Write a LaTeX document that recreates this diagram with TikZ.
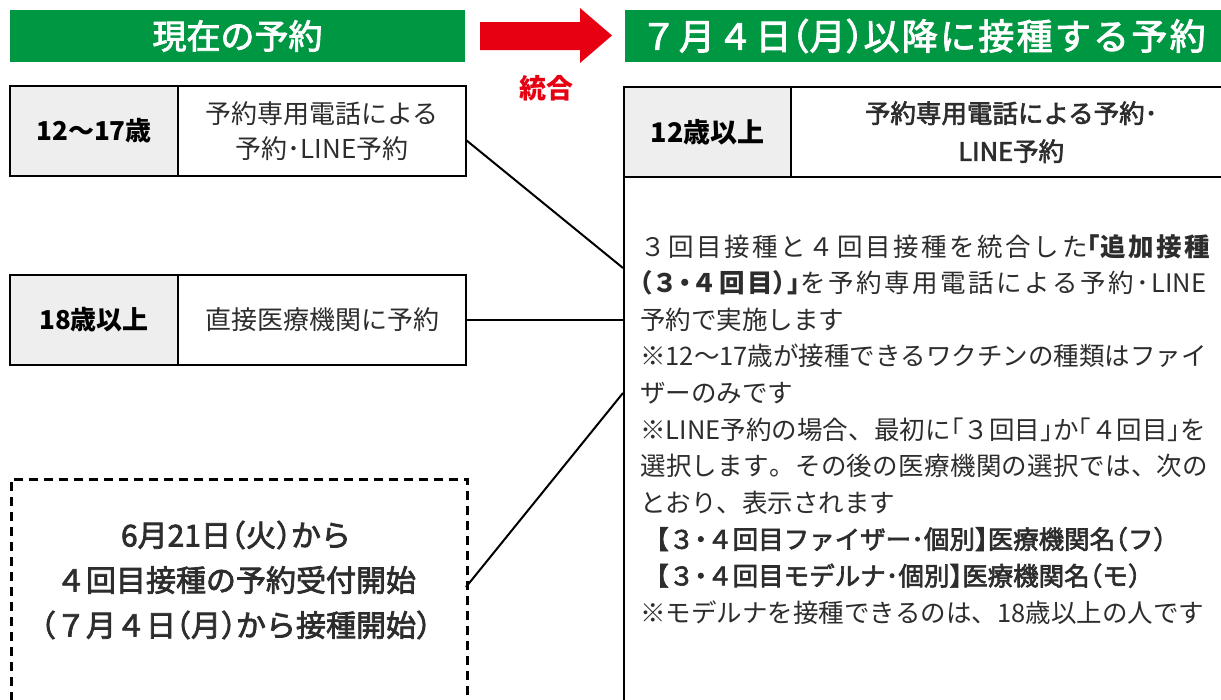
\documentclass[tikz,border=0pt]{standalone}
\usepackage{fontspec}
\setmainfont{Noto Sans CJK JP}
\newfontfamily\md{Noto Sans CJK JP}[FakeBold=2.5]
\newcommand{\hp}[1]{{\addfontfeatures{RawFeature=+halt}#1}}
\newXeTeXintercharclass\jcls
\newcount\jcnt
\newcommand{\setjrange}[2]{\jcnt=#1\relax
  \loop\XeTeXcharclass\jcnt=\jcls\relax\ifnum\jcnt<#2\relax\advance\jcnt by 1\repeat}
\setjrange{"3000}{"30FF}
\setjrange{"4E00}{"9FFF}
\setjrange{"FF00}{"FFEF}
\XeTeXcharclass`※=\jcls
\XeTeXinterchartoks\jcls\jcls={\hskip0pt plus 1fil\relax}
\XeTeXinterchartoks\jcls 0={\hskip0pt plus 1fil\relax}
\XeTeXinterchartoks 0\jcls={\hskip0pt plus 1fil\relax}
\newcommand{\jglue}{\XeTeXinterchartokenstate=1\relax}
\newcommand{\jline}[2]{\hbox to #1{#2}}
\definecolor{hgreen}{RGB}{0,151,66}
\definecolor{ared}{RGB}{230,0,18}
\definecolor{cellgray}{RGB}{238,238,238}
\definecolor{txt}{RGB}{45,45,45}
\newcommand{\fsz}[2]{\fontsize{#1}{#2}\selectfont}
\begin{document}
\begin{tikzpicture}[x=1pt,y=-1pt,
  greenbar/.style={fill=hgreen, text=white, inner sep=0pt, minimum height=52pt, font=\md\fsz{34}{40}},
  cell/.style={draw=black, line width=2.4pt, inner sep=0pt, minimum height=90pt},
  agecell/.style={cell, fill=cellgray, font=\bfseries\fsz{26}{30}},
  plaincell/.style={cell, fill=white, text=txt, font=\fsz{26}{35}, align=center},
  bodyln/.style={anchor=base west, inner sep=0pt, text=txt, font=\jglue\fsz{25.5}{30}},
  conn/.style={line width=2pt}]
\useasboundingbox (0,0) rectangle (1221,699);
\fill[white] (0,0) rectangle (1221,699);

% headers
\node[greenbar, minimum width=455pt] (h1) at (237.5,36) {現在の予約};
\node[greenbar, minimum width=596pt, anchor=west, font=\jglue\md\fsz{36}{40}] (h2) at (625,36) {\jline{565pt}{７月４日\hp{（}月\hp{）}以降に接種する予約}};
\fill[ared] (480,22) -- (580,22) -- (580,8) -- (612,35.5) -- (580,63) -- (580,50) -- (480,50) -- cycle;
\node[text=ared, font=\bfseries\fsz{27}{30}] (tg) at (546,88) {統合};

% left boxes
\node[agecell, minimum width=168pt] (a1) at (94,131) {12〜17歳};
\node[plaincell, minimum width=288pt] (c1) at (322,131) {予約専用電話による\\予約･LINE予約};
\node[agecell, minimum width=168pt] (a2) at (94,320) {18歳以上};
\node[plaincell, minimum width=288pt] (c2) at (322,320) {直接医療機関に予約};
\node[draw=black, line width=2.6pt, dash pattern=on 9pt off 6pt, minimum width=456pt, minimum height=300pt, anchor=north west, inner sep=0pt] (dbox) at (10,478) {};
\node[align=center, text=txt, font=\md\fsz{30}{45}] (dtx) at (236,580) {6月21日\hp{（}火\hp{）}から\\４回目接種の予約受付開始\\\hp{（}７月４日\hp{（}月\hp{）}から接種開始\hp{）}};

% right box
\node[agecell, minimum width=167pt, anchor=north west, font=\bfseries\fsz{27}{30}] (ra) at (623,86) {12歳以上};
\node[plaincell, minimum width=440pt, anchor=north west, font=\md\fsz{25.5}{38}] (rc) at (790,86) {予約専用電話による予約･\\LINE予約};
\node[cell, fill=white, minimum width=620pt, minimum height=600pt, anchor=north west] (rb) at (623,176) {};

\node[bodyln] (b1) at (640,256) {\jline{570pt}{３回目接種と４回目接種を統合した{\bfseries\hp{「}追加接種}}};
\node[bodyln] (b2) at (640,292.6) {\jline{566pt}{{\bfseries\hp{（}３\hp{・}４回目\hp{）」}}を予約専用電話による予約･LINE}};
\node[bodyln] (b3) at (640,329.2) {予約で実施します};
\node[bodyln] (b4) at (640,365.8) {\jline{566pt}{※12〜17歳が接種できるワクチンの種類はファイ}};
\node[bodyln] (b5) at (640,402.4) {ザーのみです};
\node[bodyln] (b6) at (640,439) {\jline{566pt}{※LINE予約の場合、最初に\hp{「}３回目\hp{」}か\hp{「}４回目\hp{」}を}};
\node[bodyln] (b7) at (640,475.6) {\jline{568pt}{選択します。その後の医療機関の選択では、次の}};
\node[bodyln] (b8) at (640,512.2) {とおり、表示されます};
\node[bodyln, font=\md\fsz{25.5}{30}] (b9) at (656,548.8) {\hp{【}３\hp{・}４回目ファイザー･個別\hp{】}医療機関名\hp{（}フ\hp{）}};
\node[bodyln, font=\md\fsz{25.5}{30}] (b10) at (656,585.4) {\hp{【}３\hp{・}４回目モデルナ･個別\hp{】}医療機関名\hp{（}モ\hp{）}};
\node[bodyln] (b11) at (640,622) {※モデルナを接種できるのは、18歳以上の人です};

% connectors
\coordinate (p1) at (466,140);
\coordinate (q1) at (623,268);
\coordinate (p3) at (466,587);
\coordinate (q3) at (623,393);
\draw[conn] (p1) -- (q1);
\draw[conn] (c2.east) -- (c2.east -| rb.west);
\draw[conn] (p3) -- (q3);
\end{tikzpicture}
\end{document}
